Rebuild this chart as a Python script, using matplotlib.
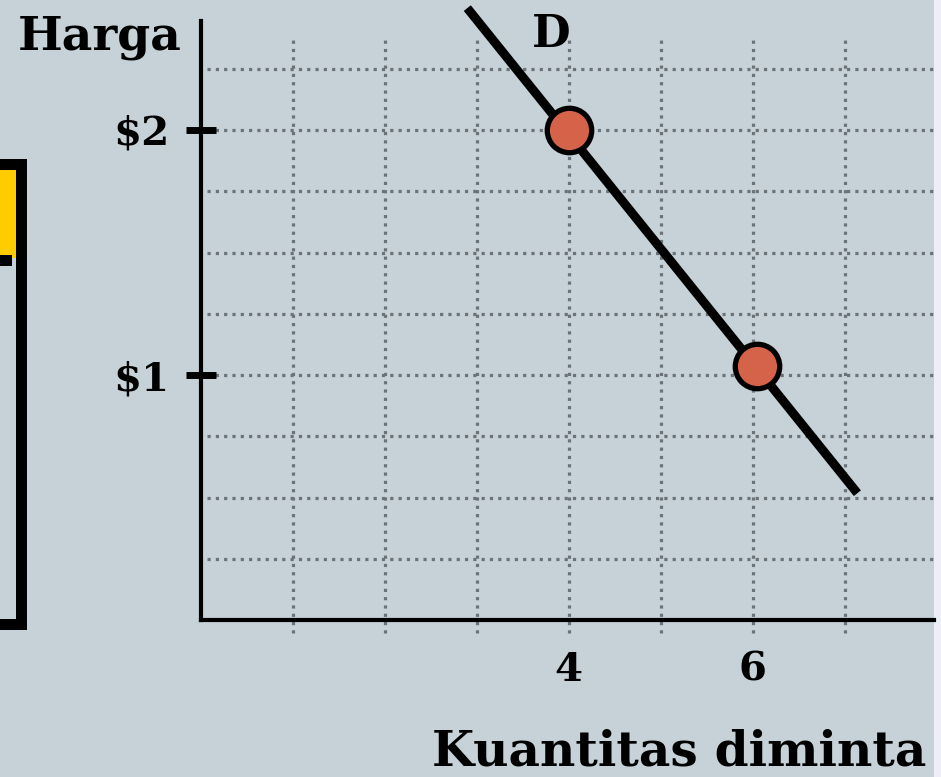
import matplotlib
matplotlib.use("Agg")
import matplotlib.pyplot as plt
from matplotlib.patches import Rectangle

# -----------------------------
# Data
# -----------------------------
quantity = [4.0, 6.05]          # the two marked points
price = [8.0, 4.15]
line_q = [2.9, 7.14]            # demand curve D, end to end
line_p = [9.99, 2.07]
grid_x = [1, 2, 3, 4, 5, 6, 7]
grid_y = [1, 2, 3, 4, 5, 6, 7, 8, 9]
x_ticks = [4, 6]
x_labels = ["4", "6"]
y_ticks = [4, 8]
y_labels = ["\\$1", "\\$2"]

W, H = 941, 777
bg = "#c6d2d8"
grid_col = "#6b7378"
font = "DejaVu Serif"

fig = plt.figure(figsize=(W / 100, H / 100), dpi=100, facecolor=bg)


def fig_rect(x0, y0, x1, y1, color):
    # pixel box (top-left origin) -> figure fraction
    fig.add_artist(Rectangle((x0 / W, 1 - y1 / H), (x1 - x0) / W, (y1 - y0) / H,
                             transform=fig.transFigure, facecolor=color,
                             edgecolor="none", zorder=0))


# bit of the neighbouring panel on the left
fig_rect(0, 159, 27, 630, "black")
fig_rect(0, 170, 16, 619, bg)
fig_rect(0, 170, 16, 258, "#ffcc00")
fig_rect(0, 255, 12, 266, "black")
# light strip at the right edge
fig_rect(934, 0, 941, H, "#eceff7")

# axes: x=0 at px 200.5, y=0 at px 620, 92 px per x unit, 61.25 px per y unit
ax = fig.add_axes([200.5 / W, (H - 620) / H, (934 - 200.5) / W, 599 / H])
ax.set_facecolor("none")
ax.set_xlim(0, (934 - 200.5) / 92)
ax.set_ylim(0, 599 / 61.25)

for s in ["top", "right"]:
    ax.spines[s].set_visible(False)
for s in ["left", "bottom"]:
    ax.spines[s].set_linewidth(3)
    ax.spines[s].set_color("black")

# dotted grid
dots = (0, (1, 1.6))
ax.vlines(grid_x, -0.21, 9.53, colors=grid_col, linewidth=2.3,
          linestyles=[dots], clip_on=False, zorder=1)
ax.hlines(grid_y, 0.07, 7.98, colors=grid_col, linewidth=2.3,
          linestyles=[dots], clip_on=False, zorder=1)

# demand line and points
ax.plot(line_q, line_p, color="black", linewidth=6.5, solid_capstyle="butt",
        clip_on=False, zorder=3)
ax.plot(quantity, price, "o", markersize=32, markerfacecolor="#d4634a",
        markeredgecolor="black", markeredgewidth=3.8, clip_on=False, zorder=4)

# ticks
ax.set_xticks(x_ticks)
ax.set_xticklabels(x_labels)
ax.set_yticks(y_ticks)
ax.set_yticklabels(y_labels)
ax.tick_params(axis="x", length=0, pad=22)
ax.tick_params(axis="y", direction="inout", length=22, width=5, pad=11)
for lab in ax.get_xticklabels() + ax.get_yticklabels():
    lab.set_fontfamily(font)
    lab.set_fontweight("bold")
    lab.set_fontsize(29)

# texts
fig.text(18 / W, 1 - 50 / H, "Harga", fontfamily=font, fontweight="bold",
         fontsize=34, ha="left", va="baseline")
fig.text(551 / W, 1 - 47 / H, "D", fontfamily=font, fontweight="bold",
         fontsize=32, ha="center", va="baseline")
fig.text(679 / W, 1 - 776 / H, "Kuantitas diminta", fontfamily=font,
         fontweight="bold", fontsize=35, ha="center", va="bottom")

fig.savefig("out.png", dpi=100, facecolor=bg)
